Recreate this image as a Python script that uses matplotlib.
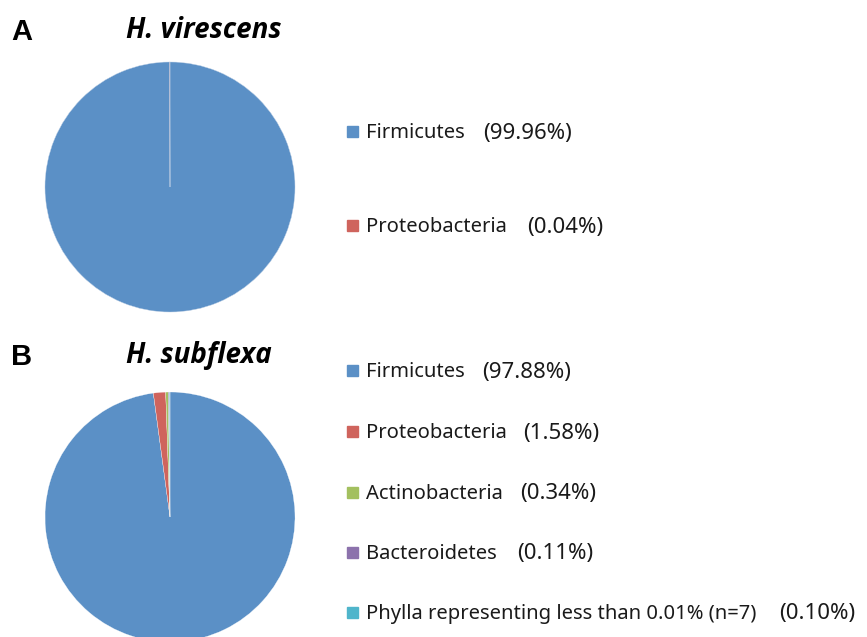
import matplotlib
matplotlib.use('Agg')
import matplotlib.pyplot as plt
from matplotlib.patches import Rectangle

# data
phyla_a = ['Firmicutes', 'Proteobacteria']
pct_a = [99.96, 0.04]
phyla_b = ['Firmicutes', 'Proteobacteria', 'Actinobacteria', 'Bacteroidetes',
           'Phylla representing less than 0.01% (n=7)']
pct_b = [97.88, 1.58, 0.34, 0.11, 0.10]
colors = ['#5b90c6', '#cf645d', '#a3c05f', '#8c72ac', '#4fb5cb']

W, H = 867, 637
fig = plt.figure(figsize=(W / 100, H / 100), dpi=100)
fig.patch.set_facecolor('white')


def fx(x):
    return x / W


def fy(y):
    return 1 - y / H


def pie_axes(cx, cy, r):
    ax = fig.add_axes([fx(cx - r), fy(cy + r), 2 * r / W, 2 * r / H])
    return ax


def finish(ax):
    ax.set_xlim(-1, 1)
    ax.set_ylim(-1, 1)
    ax.axis('off')


ax_a = pie_axes(170, 187, 125)
ax_a.pie(pct_a, colors=colors[:2], startangle=90, counterclock=False, radius=1,
         wedgeprops=dict(edgecolor='#b8cce4', linewidth=0.3))
finish(ax_a)

ax_b = pie_axes(170, 517, 125)
ax_b.pie(pct_b, colors=colors, startangle=90, counterclock=False, radius=1,
         wedgeprops=dict(edgecolor='white', linewidth=0.2))
finish(ax_b)

# panel letters and titles
fig.text(fx(11), fy(32), 'A', fontsize=21, fontweight='bold', family='Liberation Sans', va='center')
fig.text(fx(126), fy(31), 'H. virescens', fontsize=20, fontweight='bold', style='italic',
         family='Open Sans', va='center')
fig.text(fx(11), fy(357), 'B', fontsize=21, fontweight='bold', family='Liberation Sans', va='center')
fig.text(fx(126), fy(356), 'H. subflexa', fontsize=20, fontweight='bold', style='italic',
         family='Open Sans', va='center')


def legend(names, vals, ys, pxs):
    for i, (n, v, y, p) in enumerate(zip(names, vals, ys, pxs)):
        fig.patches.append(Rectangle((fx(347), fy(y + 4)), 11 / W, 11 / H,
                                     transform=fig.transFigure, color=colors[i]))
        fig.text(fx(366), fy(y), n, fontsize=14.5, family='Noto Sans', va='center', color='#1a1a1a')
        fig.text(fx(p), fy(y), '(%.2f%%)' % v, fontsize=16, family='Noto Sans',
                 va='center', color='#1a1a1a')


legend(phyla_a, pct_a, [133, 227], [483, 527])
legend(phyla_b, pct_b, [372, 433, 494, 554, 614], [482, 523, 520, 517, 779])

fig.savefig('out.png', dpi=100)
